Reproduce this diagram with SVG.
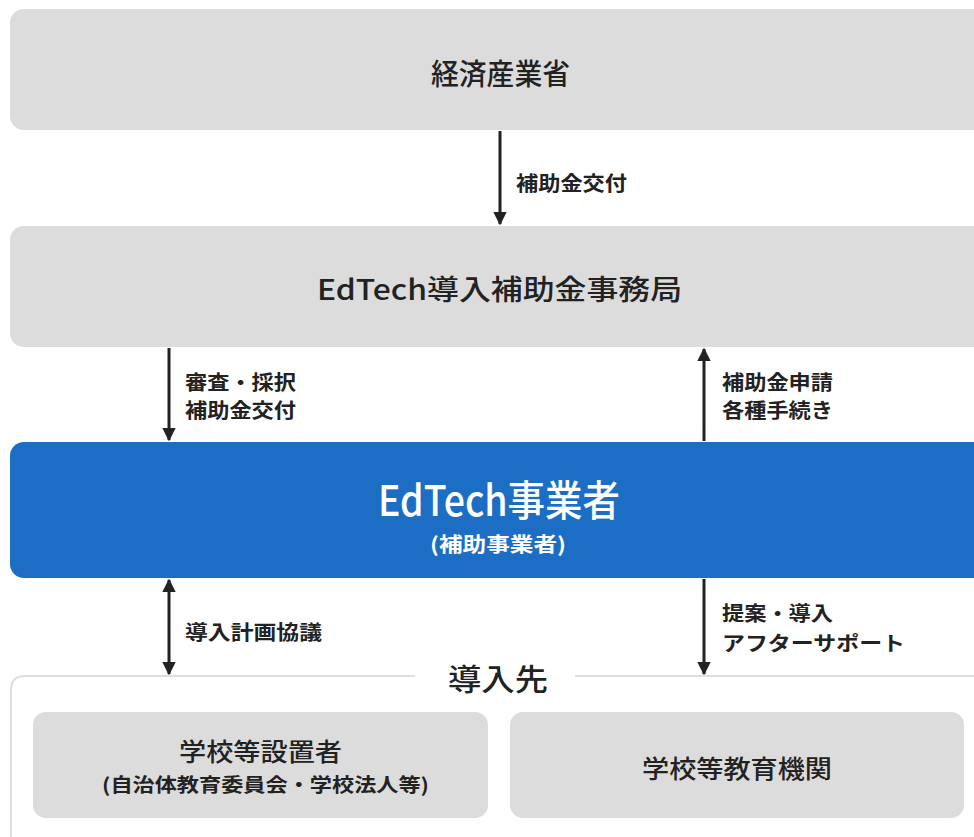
<svg xmlns="http://www.w3.org/2000/svg" width="974" height="837" viewBox="0 0 974 837">
<style>
.box{fill:#dcdcdc}
.t{font-family:"Noto Sans CJK JP","Noto Sans",sans-serif;fill:#222}
.lbl{font-family:"Noto Sans CJK JP","Noto Sans",sans-serif;fill:#222;font-size:20px;font-weight:700}
.ln{stroke:#222;stroke-width:3;fill:none}
</style>
<defs>
<marker id="ah" viewBox="0 0 10 10" refX="9" refY="5" markerWidth="4.5" markerHeight="4.5" orient="auto-start-reverse" markerUnits="strokeWidth">
<path d="M0,0 L10,5 L0,10 z" fill="#222"/>
</marker>
</defs>
<rect width="974" height="837" fill="#fff"/>
<g id="meti">
<rect class="box" x="10" y="9" width="980" height="121" rx="14"/>
<text class="t" x="431" y="85" font-size="29" font-weight="500" textLength="139" lengthAdjust="spacingAndGlyphs">経済産業省</text>
</g>
<g id="office">
<rect class="box" x="10" y="226" width="980" height="121" rx="14"/>
<text class="t" x="317" y="300" font-size="28" font-weight="500" textLength="365" lengthAdjust="spacingAndGlyphs">EdTech導入補助金事務局</text>
</g>
<g id="edtech">
<rect x="10" y="442" width="980" height="136" rx="14" fill="#1b6ec3"/>
<text class="t" x="378" y="516" font-size="42" font-weight="500" textLength="242" lengthAdjust="spacingAndGlyphs" style="fill:#fff">EdTech事業者</text>
<text class="t" x="430" y="552" font-size="20" font-weight="700" textLength="136" lengthAdjust="spacingAndGlyphs" style="fill:#fff">(補助事業者)</text>
</g>
<g id="destination">
<path d="M415,676 H25 Q11,676 11,690 V850 M575,676 H990" stroke="#dedede" stroke-width="2" fill="none"/>
<text class="t" x="448" y="690" font-size="30" font-weight="500" textLength="100" lengthAdjust="spacingAndGlyphs">導入先</text>
</g>
<g id="setter">
<rect class="box" x="33" y="712" width="455" height="106" rx="13"/>
<text class="t" x="179" y="761" font-size="25" font-weight="500" textLength="163" lengthAdjust="spacingAndGlyphs">学校等設置者</text>
<text class="t" x="102" y="792" font-size="19" font-weight="700" textLength="327" lengthAdjust="spacingAndGlyphs">(自治体教育委員会・学校法人等)</text>
</g>
<g id="school">
<rect class="box" x="510" y="712" width="454" height="106" rx="13"/>
<text class="t" x="642" y="778" font-size="25" font-weight="500" textLength="190" lengthAdjust="spacingAndGlyphs">学校等教育機関</text>
</g>
<g id="connectors">
<line class="ln" x1="500" y1="131" x2="500" y2="224" marker-end="url(#ah)"/>
<line class="ln" x1="169" y1="348" x2="169" y2="440" marker-end="url(#ah)"/>
<line class="ln" x1="704" y1="441" x2="704" y2="349" marker-end="url(#ah)"/>
<line class="ln" x1="169" y1="580" x2="169" y2="674" marker-start="url(#ah)" marker-end="url(#ah)"/>
<line class="ln" x1="704" y1="579" x2="704" y2="674" marker-end="url(#ah)"/>
<text class="lbl" x="516" y="191" textLength="111" lengthAdjust="spacingAndGlyphs">補助金交付</text>
<text class="lbl" x="185" y="390" textLength="111" lengthAdjust="spacingAndGlyphs">審査・採択</text>
<text class="lbl" x="185" y="418" textLength="111" lengthAdjust="spacingAndGlyphs">補助金交付</text>
<text class="lbl" x="722" y="390" textLength="111" lengthAdjust="spacingAndGlyphs">補助金申請</text>
<text class="lbl" x="722" y="418" textLength="111" lengthAdjust="spacingAndGlyphs">各種手続き</text>
<text class="lbl" x="185" y="640" textLength="137" lengthAdjust="spacingAndGlyphs">導入計画協議</text>
<text class="lbl" x="722" y="621" textLength="111" lengthAdjust="spacingAndGlyphs">提案・導入</text>
<text class="lbl" x="722" y="651" textLength="183" lengthAdjust="spacingAndGlyphs">アフターサポート</text>
</g>
</svg>
